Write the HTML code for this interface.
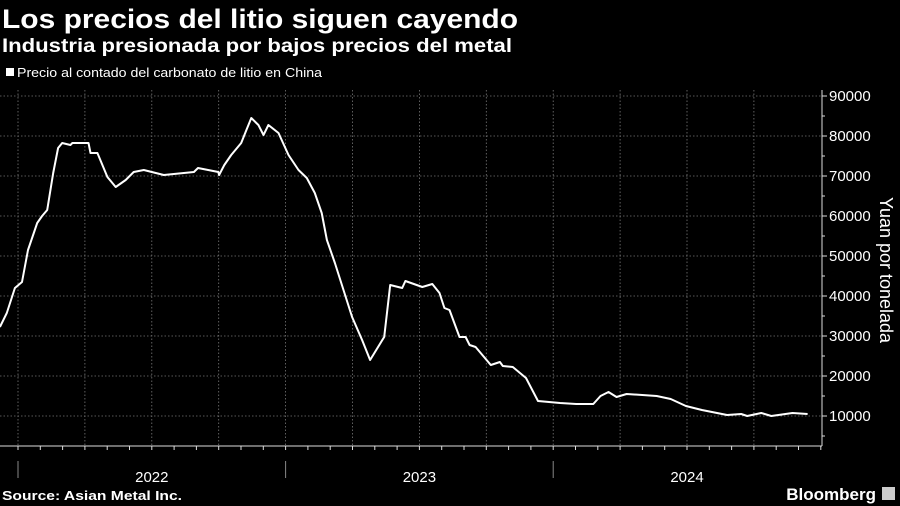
<!DOCTYPE html>
<html><head><meta charset="utf-8"><style>
html,body{margin:0;padding:0;background:#000;width:900px;height:506px;overflow:hidden;font-family:"Liberation Sans",sans-serif;color:#fff}
svg{display:block}
</style></head><body>
<svg width="900" height="506" viewBox="0 0 900 506" id="c">
<text x="2" y="28" font-size="27" font-weight="bold" fill="#fff" textLength="516" lengthAdjust="spacingAndGlyphs">Los precios del litio siguen cayendo</text>
<text x="2" y="52" font-size="19" font-weight="bold" fill="#fff" textLength="510" lengthAdjust="spacingAndGlyphs">Industria presionada por bajos precios del metal</text>
<rect x="6" y="68" width="8" height="8" fill="#fff"/>
<text x="17" y="77" font-size="13" fill="#fff" textLength="305" lengthAdjust="spacingAndGlyphs">Precio al contado del carbonato de litio en China</text>
<g id="grid"></g>
<g id="axes"></g>
<path id="line" fill="none" stroke="#fff" stroke-width="2" stroke-linejoin="round"/>
<text transform="translate(880,270) rotate(90)" text-anchor="middle" font-size="18" fill="#fff">Yuan por tonelada</text>
<text x="2" y="500" font-size="13" font-weight="bold" fill="#fff" textLength="180" lengthAdjust="spacingAndGlyphs">Source: Asian Metal Inc.</text>
<text x="876" y="500" text-anchor="end" font-size="17" font-weight="bold" fill="#fff">Bloomberg</text>
<rect x="882" y="487" width="13" height="13" fill="#ccc"/>
</svg>
<script>
const months=[-0.81,-0.5,-0.14,0.18,0.45,0.86,1.08,1.31,1.58,1.80,1.98,2.35,2.44,3.16,3.25,3.56,4.01,4.38,4.83,5.19,5.64,6.54,7.89,8.07,8.98,9.02,9.25,9.56,10.01,10.24,10.46,10.78,11.01,11.23,11.68,12.13,12.58,12.95,13.31,13.62,13.85,14.21,14.98,15.43,15.79,16.42,16.69,17.23,17.37,18.13,18.58,18.90,19.12,19.35,19.80,20.07,20.25,20.52,21.20,21.61,21.74,22.19,22.78,23.32,24.31,25.03,25.80,26.12,26.48,26.84,27.29,28.64,29.27,29.95,30.67,31.80,32.43,32.70,33.33,33.78,34.73,35.41];
const prices=[32250,35750,42000,43500,51500,58250,60000,61500,70750,77000,78250,77750,78250,78250,75750,75750,69750,67250,69000,71000,71500,70250,71000,72000,71000,70250,72750,75250,78250,81500,84500,82750,80250,82750,80750,75250,71500,69500,65750,60750,54000,48250,34750,29000,24000,29750,42750,42000,43750,42250,43000,40750,37000,36500,29750,29750,27750,27250,22750,23500,22500,22250,19500,13750,13250,13000,13000,15000,16000,14750,15500,15000,14250,12500,11500,10250,10500,10000,10750,10000,10750,10500];
const yTicks=[10000,20000,30000,40000,50000,60000,70000,80000,90000];
const yearLabels=["2022","2023","2024"];
const NS="http://www.w3.org/2000/svg";
const X=m=>18+m*22.3;
const Y=v=>416-(v-10000)/250;
const grid=document.getElementById('grid'),axes=document.getElementById('axes');
function mk(t,a,p){const e=document.createElementNS(NS,t);for(const k in a)e.setAttribute(k,a[k]);p.appendChild(e);return e;}
const AX=822,BASE=446;
yTicks.forEach(v=>{
 const g=mk('line',{x1:0,x2:AX,y1:Y(v),y2:Y(v),stroke:'#777','stroke-width':0.8,'stroke-dasharray':'1.5,2'},grid);
 
 
 const t=mk('line',{x1:AX,x2:AX+5,y1:Y(v),y2:Y(v),stroke:'#ddd'},axes);
 
 
 const l=mk('text',{x:AX+7,y:Y(v)+5,'font-size':15,fill:'#fff'},axes);l.textContent=v;
 
 
});
for(let v=5000;v<=85000;v+=10000){const t=mk('line',{x1:AX,x2:AX+3,y1:Y(v),y2:Y(v),stroke:'#ddd'},axes);
 
 }
for(let q=0;q<12;q++){const x=X(q*3);const g=mk('line',{x1:x,x2:x,y1:90,y2:BASE,stroke:'#777','stroke-width':0.8,'stroke-dasharray':'1.5,2'},grid);
 
 }
for(let m=-1;m<=36;m++){const x=X(m);if(x<0||x>AX)continue;const t=mk('line',{x1:x,x2:x,y1:BASE,y2:BASE+4,stroke:'#ddd'},axes);
 
 }
const bl=mk('line',{x1:0,x2:AX,y1:BASE,y2:BASE,stroke:'#ddd'},axes);


const vl=mk('line',{x1:AX,x2:AX,y1:90,y2:BASE,stroke:'#ddd'},axes);


yearLabels.forEach((y,i)=>{
 const s=mk('line',{x1:X(i*12),x2:X(i*12),y1:BASE+15,y2:BASE+32,stroke:'#888'},axes);
 
 
 const t=mk('text',{x:X(i*12+6),y:482,'font-size':15,fill:'#fff','text-anchor':'middle'},axes);t.textContent=y;
 
 
});
document.getElementById('line').setAttribute('d',months.map((m,i)=>(i?'L':'M')+X(m).toFixed(1)+','+Y(prices[i]).toFixed(1)).join(''));
</script>
</body></html>
